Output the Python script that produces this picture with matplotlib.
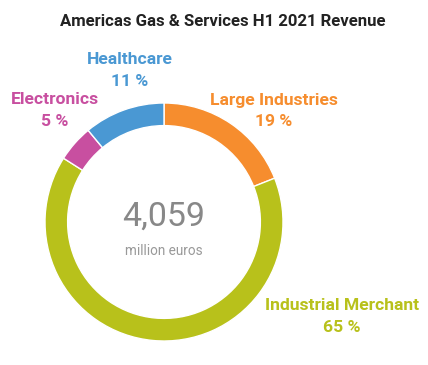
import matplotlib.pyplot as plt

# data
segments = ["Large Industries", "Industrial Merchant", "Electronics", "Healthcare"]
shares = [19, 65, 5, 11]
colors = ["#f68d2e", "#b8c11b", "#c84fa0", "#4a98d3"]
total = "4,059"
unit = "million euros"

W, H = 428, 365
plt.rcParams['font.family'] = ['Roboto', 'DejaVu Sans']

fig = plt.figure(figsize=(W / 100, H / 100), dpi=100)
ax = fig.add_axes([0, 0, 1, 1])

cx, cy, R = 164, H - 222, 119
ax.pie(shares, colors=colors, startangle=90, counterclock=False,
       center=(cx, cy), radius=R, frame=True,
       wedgeprops=dict(width=R * 0.19, edgecolor='white', linewidth=1))
ax.set_xlim(0, W)
ax.set_ylim(0, H)
ax.set_aspect('equal')
ax.axis('off')

# title
ax.text(223, H - 22, "Americas Gas & Services H1 2021 Revenue", ha='center', va='center',
        fontsize=12.1, fontweight='bold', color='#222222')

# centre text
ax.text(cx, H - 217, total, ha='center', va='center', fontsize=24.5, color='#888888')
ax.text(cx, H - 251, unit, ha='center', va='center', fontsize=9.8, color='#999999')

# labels: (x, y of name line)
label_pos = [(274, 100), (342, 306), (55, 100), (130, 60)]
for name, val, col, (lx, ly) in zip(segments, shares, colors, label_pos):
    ax.text(lx, H - ly, name, ha='center', va='center', fontsize=12.6,
            fontweight='bold', color=col)
    ax.text(lx, H - ly - 22, f"{val} %", ha='center', va='center', fontsize=12.6,
            fontweight='bold', color=col)

fig.savefig("out.png", dpi=100)
